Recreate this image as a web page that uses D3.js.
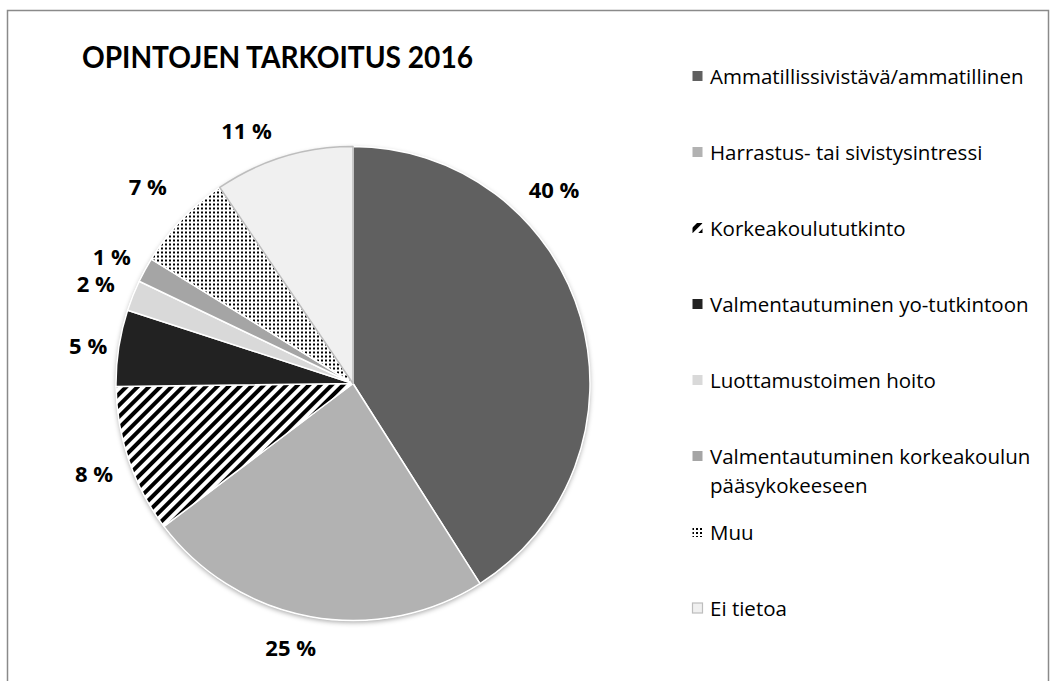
<!DOCTYPE html>
<html>
<head>
<meta charset="utf-8">
<script src="https://cdn.jsdelivr.net/npm/d3@7"></script>
<style>
  body { margin: 0; background: #fff; }
  svg { display: block; }
</style>
</head>
<body>
<svg id="chart"></svg>
<script>
/* DATA */
const categories = [
  'Ammatillissivistävä/ammatillinen',
  'Harrastus- tai sivistysintressi',
  'Korkeakoulututkinto',
  'Valmentautuminen yo-tutkintoon',
  'Luottamustoimen hoito',
  'Valmentautuminen korkeakoulun pääsykokeeseen',
  'Muu',
  'Ei tietoa'
]
// slice shares as drawn in the picture
const shares = [41.0, 23.7, 10.1, 5.2, 2.1, 1.7, 6.7, 9.5]
// data labels as printed
const pctLabels = ['40 %', '25 %', '8 %', '5 %', '2 %', '1 %', '7 %', '11 %']
// legend text lines
const legendLines = [
  ['Ammatillissivistävä/ammatillinen'],
  ['Harrastus- tai sivistysintressi'],
  ['Korkeakoulututkinto'],
  ['Valmentautuminen yo-tutkintoon'],
  ['Luottamustoimen hoito'],
  ['Valmentautuminen korkeakoulun', 'pääsykokeeseen'],
  ['Muu'],
  ['Ei tietoa']
]
const title = 'OPINTOJEN TARKOITUS 2016'

const width = 1056, height = 681
const titleFont = 'Lato, "Open Sans", sans-serif'
const font = '"Open Sans", Lato, sans-serif'

const svg = d3.select('#chart')
  .attr('width', width)
  .attr('height', height)

const defs = svg.append('defs')

/* PATTERNS */
const stripes = defs.append('pattern')
  .attr('id', 'stripes')
  .attr('patternUnits', 'userSpaceOnUse')
  .attr('width', 8).attr('height', 8)
  .attr('patternTransform', 'rotate(45)')
stripes.append('rect').attr('width', 8).attr('height', 8).attr('fill', '#fff')
stripes.append('rect').attr('width', 4).attr('height', 8).attr('fill', '#000')

const dots = defs.append('pattern')
  .attr('id', 'dots')
  .attr('patternUnits', 'userSpaceOnUse')
  .attr('width', 4).attr('height', 4)
dots.append('rect').attr('width', 4).attr('height', 4).attr('fill', '#fff')
dots.append('rect').attr('width', 2).attr('height', 2).attr('fill', '#000')

const shadow = defs.append('filter')
  .attr('id', 'shadow')
  .attr('x', '-10%').attr('y', '-10%')
  .attr('width', '120%').attr('height', '120%')
shadow.append('feDropShadow')
  .attr('dx', 0).attr('dy', 2)
  .attr('stdDeviation', 2.5)
  .attr('flood-color', '#000')
  .attr('flood-opacity', 0.35)

const fills = ['#606060', '#b2b2b2', 'url(#stripes)', '#222222', '#d9d9d9', '#a5a5a5', 'url(#dots)', '#f0f0f0']
const color = d3.scaleOrdinal().domain(categories).range(fills)

/* FRAME */
svg.append('rect')
  .attr('x', 7.5).attr('y', 10.5)
  .attr('width', 1041).attr('height', 700)
  .attr('fill', 'none')
  .attr('stroke', '#8a8a8a')
  .attr('stroke-width', 1.5)

/* TITLE */
svg.append('text')
  .attr('x', 82).attr('y', 68)
  .attr('textLength', 391)
  .attr('lengthAdjust', 'spacingAndGlyphs')
  .style('font-family', titleFont)
  .style('font-weight', 'bold')
  .style('font-size', '31px')
  .attr('fill', '#000')
  .text(title)

/* PIE */
const cx = 353, cy = 383.5, radius = 237
const pie = d3.pie().sort(null).value(d => d.value)
const arc = d3.arc().innerRadius(0).outerRadius(radius)
const data = categories.map((c, i) => ({ name: c, value: shares[i], label: pctLabels[i] }))
const arcs = pie(data)

const g = svg.append('g').attr('transform', `translate(${cx}, ${cy})`)

g.append('circle').attr('r', radius).attr('fill', '#fff').attr('filter', 'url(#shadow)')

g.selectAll('path.slice')
  .data(arcs)
  .enter().append('path')
  .attr('class', 'slice')
  .attr('d', arc)
  .attr('fill', d => color(d.data.name))
  .attr('stroke', (d, i) => i === 7 ? '#bdbdbd' : '#fff')
  .attr('stroke-width', 1.5)
  .attr('stroke-linejoin', 'round')

/* DATA LABELS (best-fit nudges like the original) */
const labelOffset = [
  [-65, -117], [-13, -9], [3, 0], [9, 3], [0, 2], [2, 5], [-5, -6], [-25, 11]
]
const labelArc = d3.arc().innerRadius(radius + 40).outerRadius(radius + 40)
g.selectAll('text.lbl')
  .data(arcs)
  .enter().append('text')
  .attr('class', 'lbl')
  .attr('x', (d, i) => labelArc.centroid(d)[0] + labelOffset[i][0])
  .attr('y', (d, i) => labelArc.centroid(d)[1] + labelOffset[i][1])
  .attr('text-anchor', 'middle')
  .attr('dominant-baseline', 'central')
  .style('font-family', font)
  .style('font-weight', 'bold')
  .style('font-size', '22px')
  .attr('fill', '#000')
  .text(d => d.data.label)

/* LEGEND */
const legendY = d3.scalePoint()
  .domain(categories)
  .range([76, 608])
const legend = svg.append('g').attr('transform', 'translate(692, 0)')
const items = legend.selectAll('g.item')
  .data(categories)
  .enter().append('g')
  .attr('class', 'item')
  .attr('transform', d => `translate(0, ${legendY(d)})`)

items.append('rect')
  .attr('x', 0.5).attr('y', -5)
  .attr('width', 10).attr('height', 10)
  .attr('fill', d => color(d))
  .attr('stroke', (d, i) => i === 7 ? '#bdbdbd' : 'none')
  .attr('stroke-width', 1.2)

items.append('text')
  .attr('x', 18)
  .attr('y', 0)
  .style('font-family', font)
  .style('font-size', '20.5px')
  .attr('fill', '#000')
  .selectAll('tspan')
  .data((d, i) => legendLines[i])
  .enter().append('tspan')
  .attr('x', 18)
  .attr('y', (d, j) => j * 29)
  .attr('dominant-baseline', 'central')
  .text(d => d)
</script>
</body>
</html>
